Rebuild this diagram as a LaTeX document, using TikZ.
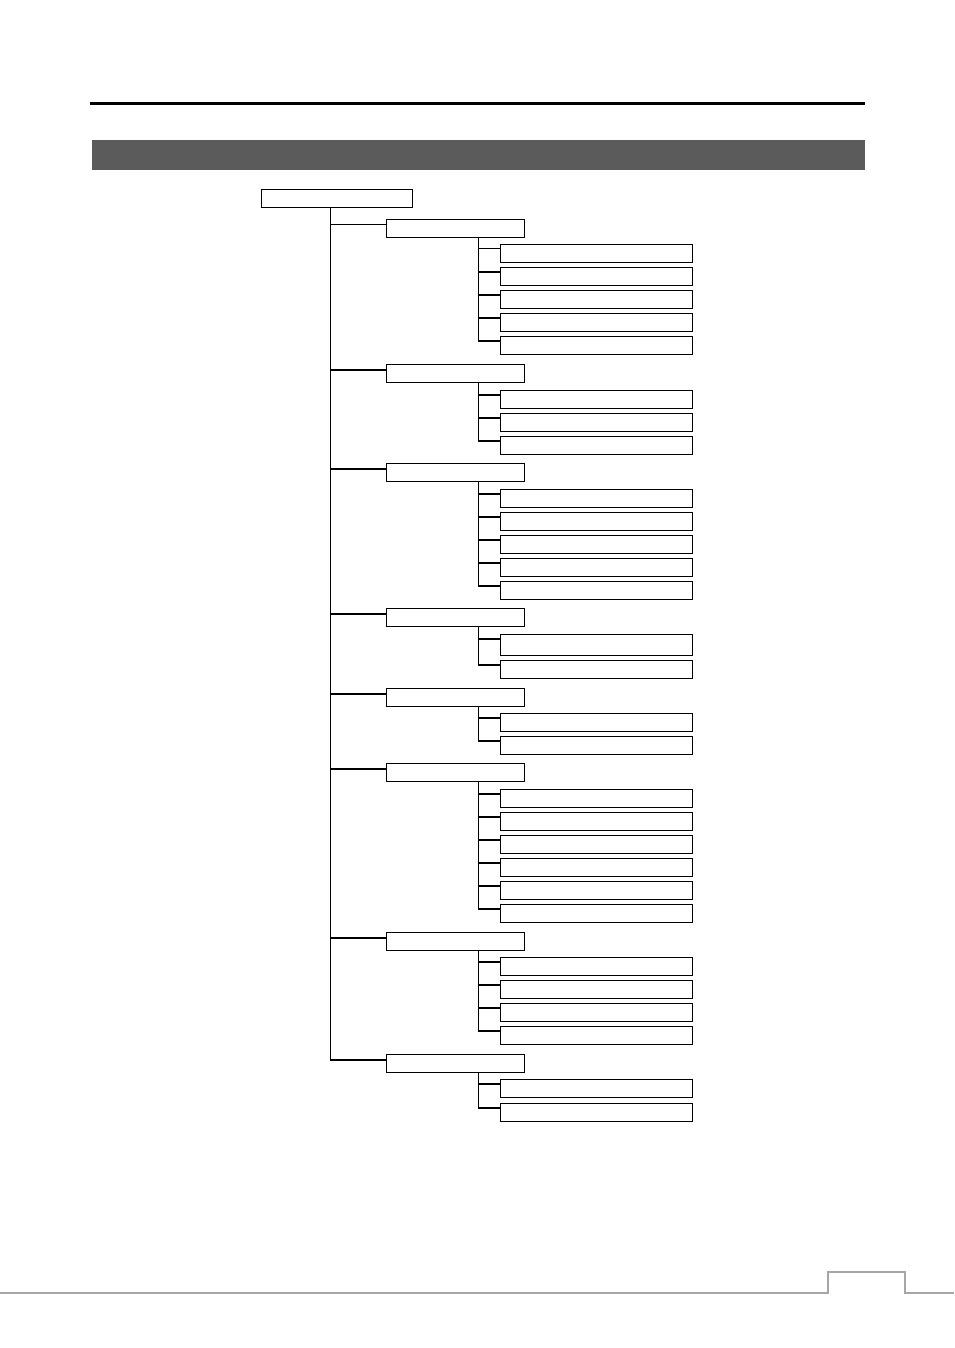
\documentclass[tikz,border=0pt]{standalone}
\usetikzlibrary{positioning}

\definecolor{bandgray}{HTML}{5B5B5B}
\definecolor{pagegray}{HTML}{A6A6A6}
\tikzset{
  menubox/.style={draw, line width=0.9pt, minimum height=13.5pt, inner sep=0pt},
  rootbox/.style={menubox, minimum width=113.25pt},
  topbox/.style={menubox, minimum width=103.5pt},
  itembox/.style={menubox, minimum width=144pt},
  box g4-1/.style={minimum height=15.75pt},
}

\begin{document}
\begin{tikzpicture}[x=0.75pt,y=-0.75pt,line width=0.9pt]
    \useasboundingbox (0,0) rectangle (954,1348);
    % page header
    \draw[line width=2.25pt] (90,104) -- (865,104);
    \fill[bandgray] (92,140) rectangle (865,170);

    \node[rootbox] (root) at (337,198.5) {};
    \coordinate (t0) at (330.5,207.5);

    \foreach \g/\y/\kids in {1/228.5/{253.5,276.5,299.5,322.5,345.5},
                             2/373.5/{399.5,422.5,445.5},
                             3/472.5/{498.5,521.5,544.5,567.5,590.5},
                             4/617.5/{645,669.5},
                             5/697.5/{722.5,745.5},
                             6/772.5/{798.5,821.5,844.5,867.5,890.5,913.5},
                             7/941.5/{966.5,989.5,1012.5,1035.5},
                             8/1063.5/{1088.5,1112.5}}{
        \node[topbox] (g\g) at (455.5,\y) {};
        \coordinate (b\g) at ([yshift=-4.5pt]g\g.north west);
        \draw (t0 |- b\g) -- (b\g);
        \coordinate (s\g) at (478.5,\y+9);
        \foreach \k [count=\j] in \kids {
            \node[itembox, box g\g-\j/.try] (g\g-\j) at (596.5,\k) {};
            \coordinate (b\g-\j) at ([yshift=-3.75pt]g\g-\j.north west);
            \draw (s\g) |- (b\g-\j);
        }
    }
    \draw (t0) |- (b8);

    % page footer
    \draw[pagegray] (0,1293) -- (828,1293) -- (828,1272) -- (905,1272) -- (905,1293) -- (954,1293);
\end{tikzpicture}
\end{document}
